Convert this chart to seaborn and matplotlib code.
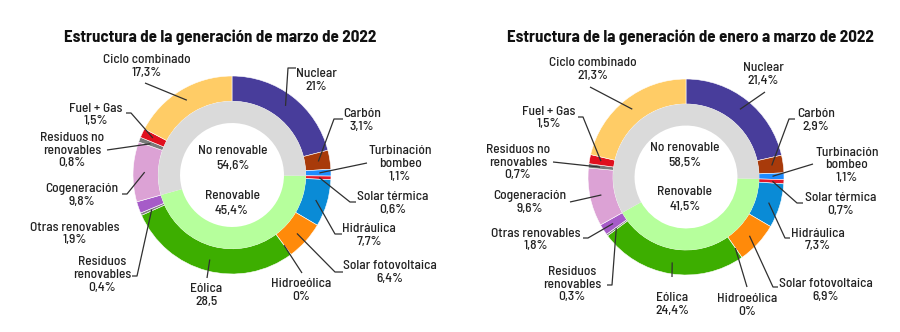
import matplotlib
matplotlib.use("Agg")
import matplotlib.pyplot as plt
import seaborn as sns
import numpy as np

sns.set_theme(style="white")
plt.rcParams['font.family'] = ['Barlow Semi Condensed', 'DejaVu Sans']

# ---------------- data ----------------
categories = ["Nuclear", "Carbón", "Turbinación\nbombeo", "Solar térmica", "Hidráulica",
              "Solar fotovoltaica", "Hidroeólica", "Eólica", "Residuos\nrenovables",
              "Otras renovables", "Cogeneración", "Residuos no\nrenovables", "Fuel + Gas",
              "Ciclo combinado"]
renewable = [False, False, False, True, True, True, True, True, True, True,
             False, False, False, False]
march_values = [21.0, 3.1, 1.1, 0.6, 7.7, 6.4, 0.0, 28.5, 0.4, 1.9, 9.8, 0.8, 1.5, 17.3]
march_labels = ["21%", "3,1%", "1,1%", "0,6%", "7,7%", "6,4%", "0%", "28,5", "0,4%",
                "1,9%", "9,8%", "0,8%", "1,5%", "17,3%"]
ytd_values = [21.4, 2.9, 1.1, 0.7, 7.3, 6.9, 0.0, 24.4, 0.3, 1.8, 9.6, 0.7, 1.5, 21.3]
ytd_labels = ["21,4%", "2,9%", "1,1%", "0,7%", "7,3%", "6,9%", "0%", "24,4%", "0,3%",
              "1,8%", "9,6%", "0,7%", "1,5%", "21,3%"]
march_totals = ["54,6%", "45,4%"]
ytd_totals = ["58,5%", "41,5%"]
titles = ["Estructura de la generación de marzo de 2022",
          "Estructura de la generación de enero a marzo de 2022"]

colors = ["#483D9B", "#A83A0A", "#1E8CFF", "#E3182A", "#0A8BD6", "#FF8A0A", "#7FBF3F",
          "#3DAE00", "#7F7F7F", "#A65BC8", "#DCA2D5", "#7A7A7A", "#E0101E", "#FFCC66"]
inner_colors = ["#B6FF9C", "#DADADA"]

# ---------------- layout (pixel coords, y from top) ----------------
W, H = 900, 332
charts = [
    dict(values=march_values, labels=march_labels, totals=march_totals, title=titles[0],
         center=(232, 175), R=99, title_xy=(220, 37),
         text=[(316, 80.5), (362, 120.5), (400, 164), (393, 203.5), (369, 235.5),
               (390, 272.5), (301, 290.5), (206, 295.5), (102, 275), (75, 234),
               (82, 195.5), (72, 150.5), (96, 115), (147, 66.5)],
         lines=[[(296, 68), (288, 68)], [(343, 119), (334, 119)], [(367, 163)],
                [(356, 202), (350, 202)], [(342, 234), (335, 234)], [(343, 272), (335, 272)],
                [(302, 273)], [(207, 278)], [(132, 276), (137, 276)], None,
                [(122, 194), (127, 194)], [(107, 150)], [(126, 113), (131, 113)], [(145, 83)]],
         ctext=[(233, 151), (233, 166), (232, 196), (232, 211)]),
    dict(values=ytd_values, labels=ytd_labels, totals=ytd_totals, title=titles[1],
         center=(686, 177), R=98, title_xy=(690, 37),
         text=[(763, 74.5), (816, 120.5), (847, 165.5), (841, 204.5), (818, 240),
               (826, 290.5), (747, 305.5), (672, 304.5), (572, 284.5), (536, 240),
               (530, 202.5), (518, 162.5), (549, 118), (593, 69.5)],
         lines=[[(765, 92)], [(795, 119), (789, 119)], [(813, 164)],
                [(803, 203), (797, 203)], [(790, 238), (785, 238)], [(778, 287), (773, 287)],
                [(747, 287)], [(672, 277)], [(607, 285), (612, 285)], [(583, 238), (588, 238)],
                [(570, 202)], [(553, 162)], [(578, 117), (583, 117)], [(590, 87)]],
         ctext=[(685, 148), (685, 163), (685, 192), (685, 207)]),
]

fig = plt.figure(figsize=(W / 100, H / 100), dpi=100)
ax = fig.add_axes([0, 0, 1, 1])

txt_color = "#222222"
line_color = "#303030"
FS = 9.7
FW = 500

for ch in charts:
    vals = np.array(ch["values"])
    cx, cy_img = ch["center"]
    cy = H - cy_img
    R = ch["R"]
    ring_in = R * 0.745
    hole = R * 0.525
    ax.pie(vals, radius=R, center=(cx, cy), startangle=90, counterclock=False,
           colors=colors, wedgeprops=dict(width=R - ring_in, edgecolor="white", linewidth=0.4))
    # inner ring: renewable vs non-renewable
    ren = np.array(renewable)
    total = vals.sum()
    ren_sum = vals[ren].sum()
    first_ren = int(np.argmax(ren))
    start_frac = vals[:first_ren].sum() / total
    ax.pie([ren_sum, total - ren_sum], radius=ring_in, center=(cx, cy),
           startangle=90 - 360 * start_frac, counterclock=False, colors=inner_colors,
           wedgeprops=dict(width=ring_in - hole, edgecolor="none", linewidth=0))

    # labels and leader lines
    cum = np.concatenate([[0], np.cumsum(vals)])
    for i, name in enumerate(categories):
        tx, ty = ch["text"][i]
        ax.text(tx, H - ty, f"{name}\n{ch['labels'][i]}", ha="center", va="center",
                fontsize=FS, fontweight=FW, color=txt_color, linespacing=1.08)
        pts = ch["lines"][i]
        if pts is None:
            continue
        mid = (cum[i] + cum[i + 1]) / 2 / total
        ang = np.deg2rad(90 - 360 * mid)
        rr = (R + ring_in) / 2 + 1
        ax_pt = (cx + rr * np.cos(ang), cy + rr * np.sin(ang))
        xs = [p[0] for p in pts] + [ax_pt[0]]
        ys = [H - p[1] for p in pts] + [ax_pt[1]]
        ax.plot(xs, ys, color=line_color, lw=0.9, solid_capstyle="butt")

    c = ch["ctext"]
    for (px, py), s in zip(c, ["No renovable", ch["totals"][0], "Renovable", ch["totals"][1]]):
        ax.text(px, H - py, s, ha="center", va="center", fontsize=FS, fontweight=FW, color=txt_color)
    ax.text(ch["title_xy"][0], H - ch["title_xy"][1], ch["title"], ha="center", va="center",
            fontsize=12.2, fontweight="bold", color="#111111")

ax.set_xlim(0, W)
ax.set_ylim(0, H)
ax.set_aspect("auto")
ax.axis("off")
fig.savefig("out.png", dpi=100, facecolor="white")
